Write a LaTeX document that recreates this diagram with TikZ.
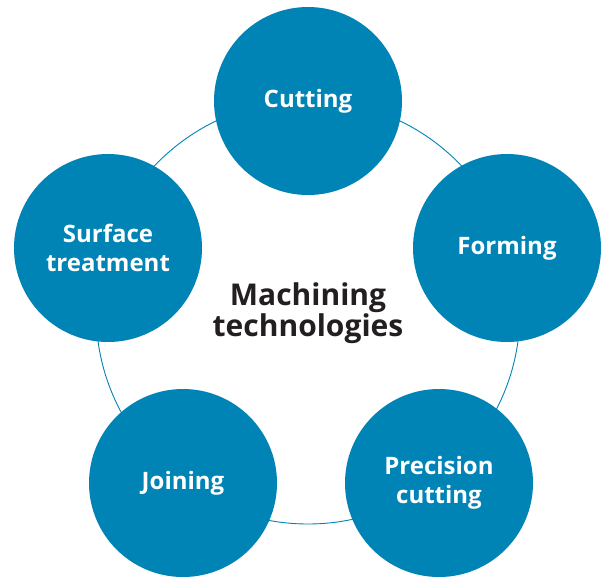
\documentclass[tikz,border=0pt]{standalone}
\usepackage{fontspec}
\setmainfont{Open Sans}
\definecolor{mblue}{HTML}{0083B5}
\definecolor{mdark}{HTML}{231F20}
\begin{document}
\begin{tikzpicture}[x=1pt,y=-1pt,
  petal/.style={circle,fill=mblue,minimum size=188pt,inner sep=0pt,text=white,
    font=\fontsize{24}{29}\selectfont\bfseries,align=center},
  hub/.style={draw=mblue,line width=0.9pt}]
\useasboundingbox (0,0) rectangle (605,576);
\coordinate (c) at (308,312);
\draw[hub] (c) circle (212);
\node[petal] (cut) at (308,101) {Cutting};
\node[petal] (form) at (507,248) {Forming};
\node[petal] (prec) at (439,483) {Precision\\cutting};
\node[petal] (join) at (183,483) {Joining};
\node[petal] (surf) at (108,248) {Surface\\treatment};
\node[text=mdark,font=\fontsize{30}{31}\selectfont\bfseries,align=center] (mt) at (308,313) {Machining\\technologies};
\end{tikzpicture}
\end{document}
